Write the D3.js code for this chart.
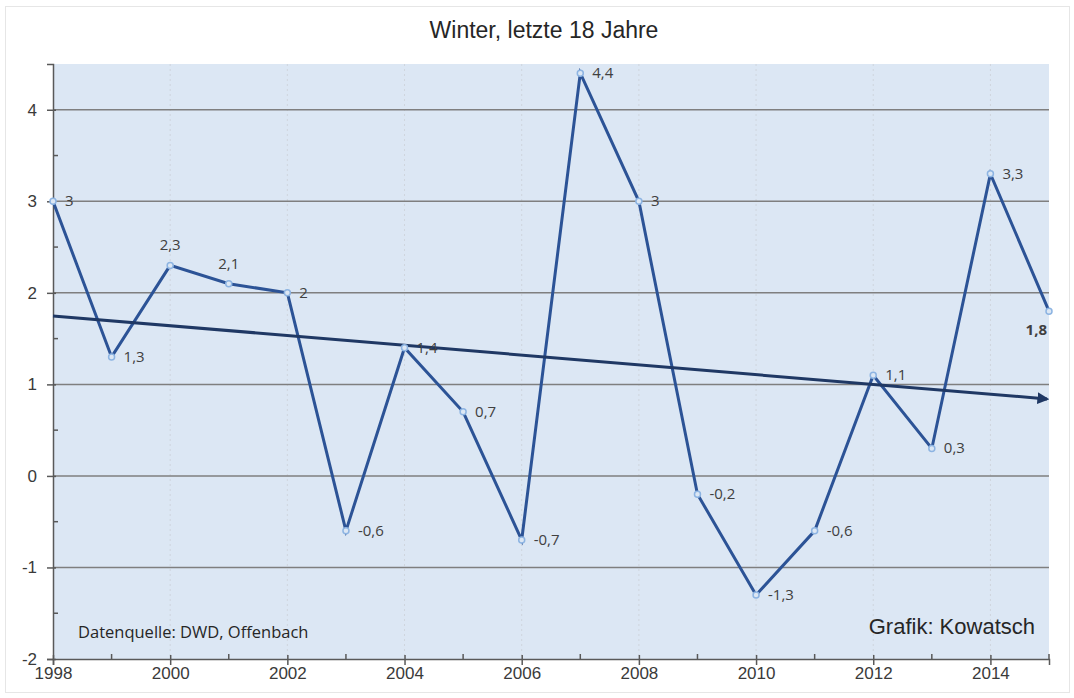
<!DOCTYPE html>
<html>
<head>
<meta charset="utf-8">
<script src="https://cdn.jsdelivr.net/npm/d3@7"></script>
<style>
  html, body { margin: 0; padding: 0; background: #fff; }
  svg { display: block; }
</style>
</head>
<body>
<svg id="chart" width="1074" height="698"></svg>
<script>
// Winter temperatures, last 18 years (DWD)
const years = [1998, 1999, 2000, 2001, 2002, 2003, 2004, 2005, 2006, 2007, 2008, 2009, 2010, 2011, 2012, 2013, 2014, 2015];
const temps = [3, 1.3, 2.3, 2.1, 2, -0.6, 1.4, 0.7, -0.7, 4.4, 3, -0.2, -1.3, -0.6, 1.1, 0.3, 3.3, 1.8];
const yTicks = [-2, -1, 0, 1, 2, 3, 4];
const xTicks = [1998, 2000, 2002, 2004, 2006, 2008, 2010, 2012, 2014];

const labelPos = { 2000: "above", 2001: "above", 2015: "below" };

const svg = d3.select("#chart");
const W = 1074, H = 698;
const m = { left: 53, right: 25, top: 64, bottom: 39 };

svg.append("rect")
  .attr("x", 5.5).attr("y", 6.5)
  .attr("width", W - 10).attr("height", H - 12)
  .attr("fill", "#fff").attr("stroke", "#e6e6e6");

const x = d3.scaleLinear().domain([1998, 2015]).range([m.left, W - m.right]);
const y = d3.scaleLinear().domain([-2, 4.5]).range([H - m.bottom, m.top]);

// plot area
svg.append("rect")
  .attr("x", x(1998)).attr("y", y(4.5))
  .attr("width", x(2015) - x(1998)).attr("height", y(-2) - y(4.5))
  .attr("fill", "#dce7f4");

// vertical dotted gridlines
svg.append("g").selectAll("line")
  .data(xTicks.slice(1))
  .join("line")
  .attr("x1", d => x(d)).attr("x2", d => x(d))
  .attr("y1", y(4.5)).attr("y2", y(-2))
  .attr("stroke", "#cfd5dd").attr("stroke-dasharray", "2,3");

// horizontal gridlines
svg.append("g").selectAll("line")
  .data(yTicks.slice(1))
  .join("line")
  .attr("x1", x(1998)).attr("x2", x(2015))
  .attr("y1", d => y(d)).attr("y2", d => y(d))
  .attr("stroke", "#7f7f7f").attr("stroke-width", 1.5);

// axes
const yAxis = d3.axisLeft(y).tickValues(yTicks).tickSize(6).tickPadding(10).tickFormat(d => String(d));
const gy = svg.append("g").attr("transform", `translate(${x(1998)},0)`).call(yAxis);
const xAxis = d3.axisBottom(x).tickValues(xTicks).tickSize(6).tickPadding(2).tickFormat(d => String(d));
const gx = svg.append("g").attr("transform", `translate(0,${y(-2)})`).call(xAxis);

[gy, gx].forEach(g => {
  g.attr("font-size", null).attr("font-family", null);
  g.select(".domain").attr("stroke", "#595959").attr("stroke-width", 1.5);
  g.selectAll(".tick line").attr("stroke", "#595959").attr("stroke-width", 1.5);
  g.selectAll(".tick text")
    .attr("fill", "#3a3a3a")
    .attr("font-family", "'Liberation Sans', Arial, sans-serif")
    .attr("font-size", 17);
});
gy.selectAll(".tick line").attr("x1", 3);
gx.selectAll(".tick line").attr("y1", -4);

// minor ticks
svg.append("g").selectAll("line")
  .data(d3.range(-1.5, 4.5, 1))
  .join("line")
  .attr("x1", x(1998)).attr("x2", x(1998) + 5)
  .attr("y1", d => y(d)).attr("y2", d => y(d))
  .attr("stroke", "#595959").attr("stroke-width", 1.5);
svg.append("g").selectAll("line")
  .data(years.filter(d => d % 2 === 1))
  .join("line")
  .attr("x1", d => x(d)).attr("x2", d => x(d))
  .attr("y1", y(-2)).attr("y2", y(-2) - 5)
  .attr("stroke", "#595959").attr("stroke-width", 1.5);

const data = years.map((yr, i) => ({ yr, v: temps[i] }));

// data line
svg.append("path")
  .datum(data)
  .attr("fill", "none")
  .attr("stroke", "#2c5396")
  .attr("stroke-width", 3)
  .attr("stroke-linejoin", "miter")
  .attr("d", d3.line().x(d => x(d.yr)).y(d => y(d.v)));

// linear trend
const mx = d3.mean(years), my = d3.mean(temps);
const slope = d3.sum(years, (d, i) => (d - mx) * (temps[i] - my)) / d3.sum(years, d => (d - mx) ** 2);
const trend = yr => my + slope * (yr - mx);

svg.append("defs").append("marker")
  .attr("id", "arrow")
  .attr("viewBox", "0 0 10 10")
  .attr("refX", 8).attr("refY", 5)
  .attr("markerWidth", 4).attr("markerHeight", 4)
  .attr("orient", "auto")
  .append("path")
  .attr("d", "M0,0 L10,5 L0,10 Z")
  .attr("fill", "#1f3864");

svg.append("line")
  .attr("x1", x(1998)).attr("y1", y(trend(1998)))
  .attr("x2", x(2015) - 2).attr("y2", y(trend(2015)))
  .attr("stroke", "#1f3864").attr("stroke-width", 3)
  .attr("marker-end", "url(#arrow)");

// markers
svg.append("g").selectAll("circle")
  .data(data)
  .join("circle")
  .attr("cx", d => x(d.yr)).attr("cy", d => y(d.v))
  .attr("r", 3)
  .attr("fill", "#dce7f4")
  .attr("stroke", "#8db4e2")
  .attr("stroke-width", 1.5);

// data labels
const fmt = v => String(v).replace(".", ",");
svg.append("g").selectAll("text")
  .data(data)
  .join("text")
  .attr("x", d => {
    const p = labelPos[d.yr];
    if (p === "below") return x(d.yr) - 2;
    if (p === "above") return x(d.yr);
    return x(d.yr) + 12;
  })
  .attr("y", d => {
    const p = labelPos[d.yr];
    if (p === "above") return y(d.v) - 15;
    if (p === "below") return y(d.v) + 24;
    return y(d.v) + 5;
  })
  .attr("text-anchor", d => {
    const p = labelPos[d.yr];
    if (p === "below") return "end";
    if (p === "above") return "middle";
    return "start";
  })
  .attr("fill", "#404040")
  .style("font-family", "'Open Sans', sans-serif")
  .style("font-size", "15px")
  .style("font-weight", d => labelPos[d.yr] === "below" ? "bold" : "normal")
  .text(d => fmt(d.v));

// title and notes
svg.append("text")
  .attr("x", 544).attr("y", 38)
  .attr("text-anchor", "middle")
  .attr("fill", "#262626")
  .style("font-family", "'Liberation Sans', Arial, sans-serif")
  .style("font-size", "23px")
  .text("Winter, letzte 18 Jahre");

svg.append("text")
  .attr("x", 78).attr("y", 638)
  .attr("fill", "#262626")
  .style("font-family", "'Open Sans', sans-serif")
  .style("font-size", "16.5px")
  .text("Datenquelle: DWD, Offenbach");

svg.append("text")
  .attr("x", 1035).attr("y", 634)
  .attr("text-anchor", "end")
  .attr("fill", "#262626")
  .style("font-family", "'Liberation Sans', Arial, sans-serif")
  .style("font-size", "22px")
  .text("Grafik: Kowatsch");
</script>
</body>
</html>
